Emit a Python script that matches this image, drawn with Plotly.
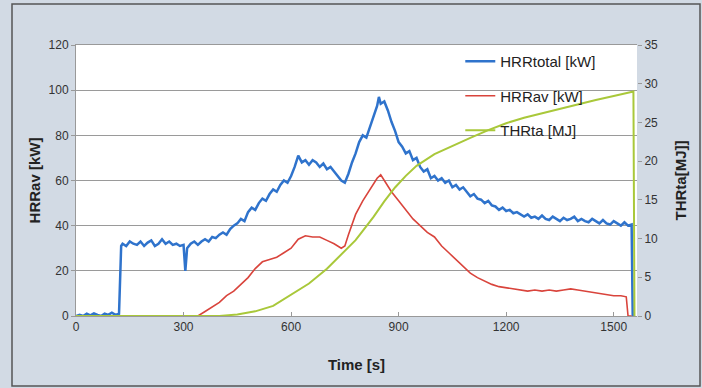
import plotly.graph_objects as go

# ---- data ----
t_total = [0, 10, 20, 30, 40, 50, 60, 70, 80, 90, 100, 110, 120, 126,
           130, 140, 150, 160, 170, 180, 190, 200, 210, 220, 230, 240, 250, 260, 270, 280, 290, 300, 305,
           310, 320, 330, 340, 350, 360, 370, 380, 390, 400, 410, 420, 430, 440, 450, 460, 470, 480, 490,
           500, 510, 520, 530, 540, 550, 560, 570, 580, 590, 600, 610, 620, 630, 640, 650, 660, 670, 680,
           690, 700, 710, 720, 730, 740, 750, 760, 770, 780, 790, 800, 810, 820, 830, 840, 845, 850, 860,
           870, 880, 890, 900, 910, 920, 930, 940, 950, 960, 970, 980, 990, 1000, 1010, 1020, 1030, 1040,
           1050, 1060, 1070, 1080, 1090, 1100, 1110, 1120, 1130, 1140, 1150, 1160, 1170, 1180, 1190, 1200,
           1210, 1220, 1230, 1240, 1250, 1260, 1270, 1280, 1290, 1300, 1310, 1320, 1330, 1340, 1350, 1360,
           1370, 1380, 1390, 1400, 1410, 1420, 1430, 1440, 1450, 1460, 1470, 1480, 1490, 1500, 1510, 1520,
           1530, 1540, 1550, 1553]
hrr_total = [0, 0.5, 0, 1, 0.3, 1.2, 0.5, 0, 1, 0.5, 1.5, 0.5, 1, 31,
             32, 31, 33, 32, 31.5, 33, 31, 32.5, 33.5, 31, 32, 34, 32, 33, 31.5, 32, 31, 31.5, 20,
             30, 32, 33, 31.5, 33, 34, 33, 35, 34.5, 36, 37, 36, 38.5, 40, 41, 43, 42, 46, 48,
             47, 50, 52, 51, 54, 56, 55, 58, 60, 59, 62, 66, 71, 68, 69, 67, 69, 68, 66,
             67.5, 65, 66, 64, 62, 60, 59, 63, 68, 72, 77, 80, 79, 84, 88, 93, 97, 94, 95,
             91, 86, 82, 77, 75, 72, 73, 69, 70, 66, 64, 65, 61, 62, 60, 61, 59, 60,
             57, 58, 56, 57, 55, 53, 54, 52, 51.5, 50, 51, 49, 48.5, 47, 48, 46.5,
             47, 45.5, 46, 45, 44, 45, 43.5, 44, 43, 44.5, 43, 42.5, 44, 43, 42, 43.5,
             42.5, 43, 44, 42, 43, 42, 41.5, 43, 42, 41, 42.5, 41, 40.5, 42, 41, 40,
             41.5, 40, 40.5, 0]

t_av = [0, 340, 360, 380, 400, 420, 440, 460, 480, 500, 520, 540, 560, 580, 600, 620, 640, 660, 680,
        700, 720, 740, 750, 760, 780, 800, 820, 840, 850, 860, 880, 900, 920, 940, 960, 980, 1000,
        1020, 1040, 1060, 1080, 1100, 1120, 1140, 1160, 1180, 1200, 1220, 1240, 1260, 1280, 1300,
        1320, 1340, 1360, 1380, 1400, 1420, 1440, 1460, 1480, 1500, 1520, 1535, 1540, 1550]
hrr_av = [0, 0, 2, 4, 6, 9, 11, 14, 17, 21, 24, 25, 26, 28, 30, 34, 35.5, 35, 35,
          33.5, 32, 30, 31, 36, 45, 51, 56, 61, 62.5, 60, 55, 51, 47, 43, 40, 37, 35,
          31, 28, 25, 22, 19, 17, 15.5, 14, 13, 12.5, 12, 11.5, 11, 11.5, 11,
          11.5, 11, 11.5, 12, 11.5, 11, 10.5, 10, 9.5, 9, 9, 8.5, 0, 0]

t_thr = [0, 400, 450, 500, 550, 600, 650, 700, 750, 780, 800, 830, 860, 890, 920, 950, 1000, 1050,
         1100, 1150, 1200, 1250, 1300, 1350, 1400, 1450, 1500, 1555, 1558]
thr_ta = [0, 0, 0.2, 0.6, 1.3, 2.7, 4.2, 6.1, 8.5, 9.8, 11, 12.8, 14.8, 16.6, 18.1, 19.4, 20.9, 22.0,
          23.0, 24.0, 24.9, 25.6, 26.2, 26.8, 27.4, 27.9, 28.4, 29, 0]

x_ticks = [0, 300, 600, 900, 1200, 1500]

BLUE = "#2f73cc"
RED = "#d9443c"
GREEN = "#a9c83a"
FONT = "Liberation Sans, Arial, sans-serif"

fig = go.Figure()
fig.add_trace(go.Scatter(x=t_total, y=hrr_total, name="HRRtotal [kW]", mode="lines",
                         line=dict(color=BLUE, width=2.5), legendgroup="a"))
fig.add_trace(go.Scatter(x=t_av, y=hrr_av, name="HRRav [kW]", mode="lines",
                         line=dict(color=RED, width=1.6), legendgroup="b"))
fig.add_trace(go.Scatter(x=t_thr, y=thr_ta, name="THRta [MJ]", mode="lines", yaxis="y2",
                         line=dict(color=GREEN, width=2), legendgroup="c"))

fig.update_layout(
    width=702, height=388,
    margin=dict(l=76, r=65, t=45, b=72),
    paper_bgcolor="#d2dae4",
    plot_bgcolor="#ffffff",
    font=dict(family=FONT, color="#333333", size=12),
    legend=dict(x=0.685, y=1.0, xanchor="left", yanchor="top",
                bgcolor="rgba(0,0,0,0)", font=dict(size=15, color="#222222"),
                tracegroupgap=12, traceorder="grouped"),
    xaxis=dict(range=[0, 1565], tickvals=x_ticks, showgrid=False, zeroline=False,
               showline=True, linecolor="#999999", mirror=True,
               ticks="inside", ticklen=4, tickcolor="#999999",
               title=dict(text="<b>Time [s]</b>", font=dict(size=15, color="#222222"), standoff=26)),
    yaxis=dict(range=[0, 120], dtick=20, showgrid=True, gridcolor="#9a9a9a", gridwidth=1,
               zeroline=False, showline=True, linecolor="#999999",
               ticks="outside", ticklen=4, tickcolor="#999999",
               title=dict(text="<b>HRRav [kW]</b>", font=dict(size=15, color="#222222"), standoff=4)),
    yaxis2=dict(range=[0, 35], dtick=5, overlaying="y", side="right", showgrid=False,
                zeroline=False, ticks="outside", ticklen=4, tickcolor="#999999",
                title=dict(text="<b>THRta[MJ]]</b>", font=dict(size=15, color="#222222"), standoff=18)),
    shapes=[dict(type="rect", xref="paper", yref="paper",
                 x0=(12 - 76) / 561, x1=(700 - 76) / 561,
                 y0=(316 - 386) / 271, y1=(316 - 4) / 271,
                 line=dict(color="#555555", width=1.5), fillcolor="rgba(0,0,0,0)", layer="below")],
)

fig.write_html("out.html")
